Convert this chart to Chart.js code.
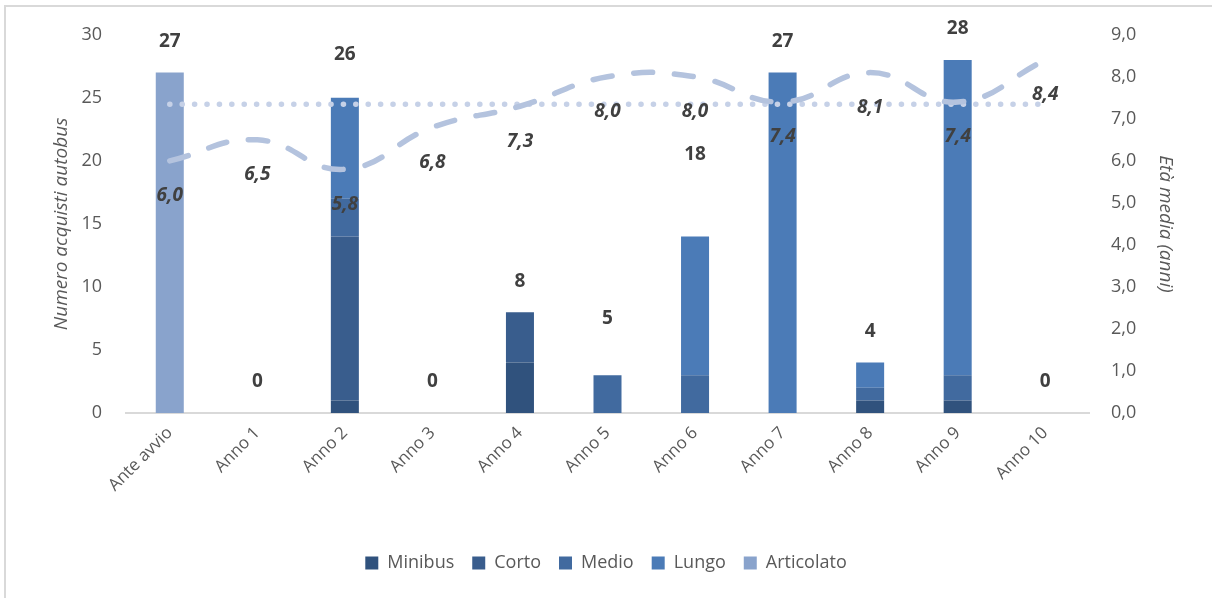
<!DOCTYPE html>
<html>
<head>
<meta charset="utf-8">
<script src="https://cdn.jsdelivr.net/npm/chart.js@4.4.1/dist/chart.umd.min.js"></script>
<style>
  html, body { margin: 0; padding: 0; background: #fff; }
  #wrap { position: relative; width: 1212px; height: 598px; }
  #frame { position: absolute; left: 4px; top: 5px; width: 1300px; height: 700px;
           border-left: 2px solid #d9d9d9; border-top: 2px solid #d9d9d9; pointer-events: none; }
</style>
</head>
<body>
<div id="wrap">
  <canvas id="chart" width="1212" height="598"></canvas>
  <div id="frame"></div>
</div>
<script>
const categories = ['Ante avvio', 'Anno 1', 'Anno 2', 'Anno 3', 'Anno 4', 'Anno 5', 'Anno 6', 'Anno 7', 'Anno 8', 'Anno 9', 'Anno 10'];
const minibus    = [0, 0, 1, 0, 4, 0, 0, 0, 1, 1, 0];
const corto      = [0, 0, 13, 0, 4, 0, 0, 0, 0, 0, 0];
const medio      = [0, 0, 3, 0, 0, 3, 3, 0, 1, 2, 0];
const lungo      = [0, 0, 8, 0, 0, 0, 11, 27, 2, 25, 0];
const articolato = [27, 0, 0, 0, 0, 0, 0, 0, 0, 0, 0];
const totals     = [27, 0, 26, 0, 8, 5, 18, 27, 4, 28, 0];
const etaMedia   = [6.0, 6.5, 5.8, 6.8, 7.3, 8.0, 8.0, 7.4, 8.1, 7.4, 8.4];
const etaRif     = [7.35, 7.35, 7.35, 7.35, 7.35, 7.35, 7.35, 7.35, 7.35, 7.35, 7.35];
const leftTicks  = [0, 5, 10, 15, 20, 25, 30];
const rightTicks = [0, 1, 2, 3, 4, 5, 6, 7, 8, 9];

const FONT = "'Open Sans', 'Noto Sans', sans-serif";
const GREY = '#595959';
const fmt = v => v.toFixed(1).replace('.', ',');

// value labels: totals above the stacks, ages under the dashed line
const labelPlugin = {
  id: 'labels',
  afterDatasetsDraw(chart) {
    const ctx = chart.ctx;
    const y = chart.scales.y;
    const x = chart.scales.x;
    ctx.save();
    ctx.fillStyle = '#404040';
    ctx.textAlign = 'center';
    ctx.textBaseline = 'middle';
    ctx.font = "bold 19px " + FONT;
    totals.forEach((t, i) => {
      ctx.fillText(String(t), x.getPixelForValue(i), y.getPixelForValue(t) - 31);
    });
    ctx.font = "italic bold 19px " + FONT;
    const meta = chart.getDatasetMeta(5);
    meta.data.forEach((pt, i) => {
      ctx.fillText(fmt(etaMedia[i]), pt.x, pt.y + 35);
    });
    ctx.restore();
  }
};

const barOpts = { barPercentage: 0.64, categoryPercentage: 0.5, borderWidth: 0, order: 2, yAxisID: 'y' };

new Chart(document.getElementById('chart'), {
  type: 'bar',
  data: {
    labels: categories,
    datasets: [
      { label: 'Minibus', data: minibus, backgroundColor: '#30527d', ...barOpts },
      { label: 'Corto', data: corto, backgroundColor: '#395d8d', ...barOpts },
      { label: 'Medio', data: medio, backgroundColor: '#416a9f', ...barOpts },
      { label: 'Lungo', data: lungo, backgroundColor: '#4b7bb7', ...barOpts },
      { label: 'Articolato', data: articolato, backgroundColor: '#89a3cc', ...barOpts },
      {
        type: 'line', label: 'Età media', data: etaMedia, yAxisID: 'y1', order: 0,
        borderColor: '#b4c3de', borderWidth: 5.5, borderDash: [19, 22], borderCapStyle: 'round',
        tension: 0.45, pointRadius: 0, fill: false
      },
      {
        type: 'line', label: 'Riferimento', data: etaRif, yAxisID: 'y1', order: 1,
        borderColor: '#c6d1e7', borderWidth: 5.5, borderDash: [0.1, 12.3], borderCapStyle: 'round',
        pointRadius: 0, fill: false
      }
    ]
  },
  options: {
    responsive: false,
    animation: false,
    layout: { padding: { top: 34, right: 0, bottom: 16, left: 0 } },
    plugins: {
      tooltip: { enabled: false },
      legend: {
        position: 'bottom',
        labels: {
          filter: item => item.datasetIndex < 5,
          boxWidth: 13, boxHeight: 13, padding: 18,
          color: GREY, font: { family: FONT, size: 18 }
        }
      }
    },
    scales: {
      x: {
        stacked: true,
        grid: { display: false, drawTicks: false },
        border: { color: '#d9d9d9', width: 2 },
        ticks: { color: GREY, font: { family: FONT, size: 17 }, maxRotation: 45, minRotation: 45, padding: 10 },
        afterFit: s => { s.height = 123; }
      },
      y: {
        stacked: true, min: 0, max: 30,
        grid: { display: false, drawTicks: false },
        border: { display: false },
        afterBuildTicks: s => { s.ticks = leftTicks.map(v => ({ value: v })); },
        ticks: { color: GREY, font: { family: FONT, size: 18 }, padding: 24 },
        title: { display: true, text: 'Numero acquisti autobus', color: GREY, font: { family: FONT, size: 19, style: 'italic' }, padding: { top: 50, bottom: 0 } },
        afterFit: s => { s.width = 126; }
      },
      y1: {
        position: 'right', min: 0, max: 9,
        grid: { display: false, drawTicks: false },
        border: { display: false },
        afterBuildTicks: s => { s.ticks = rightTicks.map(v => ({ value: v })); },
        ticks: { color: GREY, font: { family: FONT, size: 18 }, padding: 22, callback: v => fmt(v) },
        title: { display: true, text: 'Età media (anni)', color: GREY, font: { family: FONT, size: 19, style: 'italic' }, padding: { top: 35, bottom: 0 } },
        afterFit: s => { s.width = 123; }
      }
    }
  },
  plugins: [labelPlugin]
});
</script>
</body>
</html>
